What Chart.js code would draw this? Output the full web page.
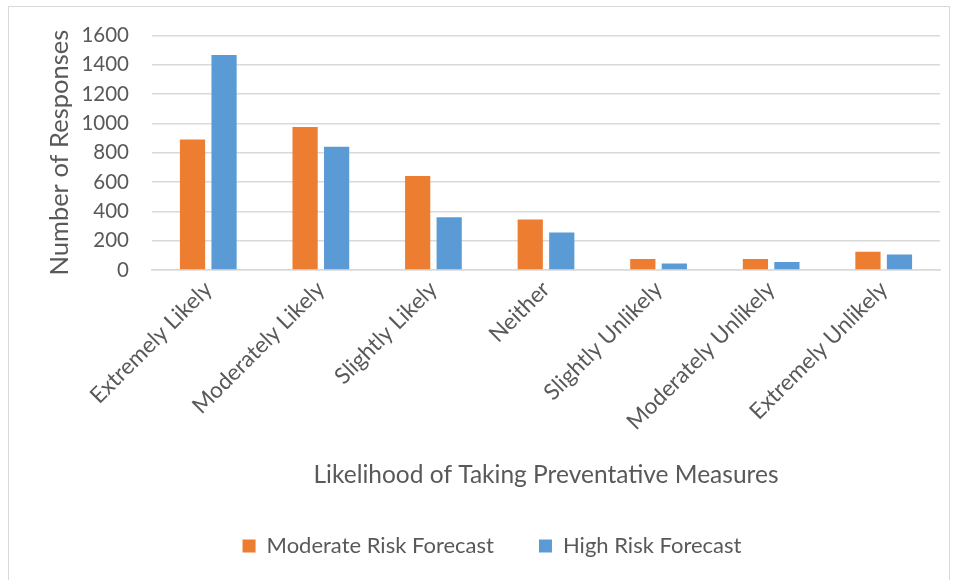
<!DOCTYPE html>
<html>
<head>
<meta charset="utf-8">
<script src="https://cdn.jsdelivr.net/npm/chart.js@4"></script>
<style>
  body { margin: 0; background: #fff; }
  #box { position: absolute; left: 0; top: 0; width: 960px; height: 580px; }
  #frame { position: absolute; left: 8px; top: 6px; width: 942px; height: 580px; border: 1px solid #d9d9d9; box-sizing: border-box; }
</style>
</head>
<body>
<div id="frame"></div>
<div id="box"><canvas id="chartCanvas" width="960" height="580"></canvas></div>
<script>
const categories = ['Extremely Likely', 'Moderately Likely', 'Slightly Likely', 'Neither',
    'Slightly Unlikely', 'Moderately Unlikely', 'Extremely Unlikely'];
const moderateRisk = [890, 975, 640, 345, 75, 75, 125];
const highRisk = [1465, 840, 360, 255, 45, 55, 105];
const yTicks = [0, 200, 400, 600, 800, 1000, 1200, 1400, 1600];

const fontFamily = 'Lato, "Open Sans", sans-serif';
const textColor = '#595959';

let ctx = document.querySelector('#chartCanvas');

let graph = new Chart(ctx, {
    type: 'bar',
    data: {
        labels: categories,
        datasets: [{
            label: 'Moderate Risk Forecast',
            data: moderateRisk,
            backgroundColor: '#ed7d31',
            categoryPercentage: 0.56,
            barPercentage: 0.8
        }, {
            label: 'High Risk Forecast',
            data: highRisk,
            backgroundColor: '#5b9bd5',
            categoryPercentage: 0.56,
            barPercentage: 0.8
        }]
    },
    options: {
        responsive: false,
        animation: false,
        devicePixelRatio: 1,
        layout: {
            padding: { left: 44, right: 20, top: 33, bottom: 13 }
        },
        scales: {
            x: {
                grid: { display: false, drawTicks: false },
                border: { color: '#d9d9d9', width: 1.5 },
                ticks: {
                    color: textColor,
                    font: { family: fontFamily, size: 22.5 },
                    minRotation: 45,
                    maxRotation: 45,
                    padding: 6
                },
                title: {
                    display: true,
                    text: 'Likelihood of Taking Preventative Measures',
                    color: textColor,
                    font: { family: fontFamily, size: 24.5 },
                    padding: { top: 20, bottom: 0 }
                },
                afterFit: (scale) => { scale.height = 220; }
            },
            y: {
                min: 0,
                max: 1600,
                afterBuildTicks: (scale) => { scale.ticks = yTicks.map(v => ({ value: v })); },
                grid: { color: '#d9d9d9', lineWidth: 1.5, drawTicks: false },
                border: { display: false },
                ticks: {
                    color: textColor,
                    font: { family: fontFamily, size: 20.5 },
                    padding: 23,
                    callback: (v) => String(v)
                },
                title: {
                    display: true,
                    text: 'Number of Responses',
                    color: textColor,
                    font: { family: fontFamily, size: 25.5 },
                    padding: { top: 0, bottom: 0 }
                },
                afterFit: (scale) => { scale.width = 108; }
            }
        },
        plugins: {
            legend: {
                display: true,
                position: 'bottom',
                labels: {
                    color: textColor,
                    font: { family: fontFamily, size: 22 },
                    boxWidth: 13,
                    boxHeight: 13,
                    padding: 45
                }
            },
            tooltip: { enabled: false }
        }
    }
});
</script>
</body>
</html>
